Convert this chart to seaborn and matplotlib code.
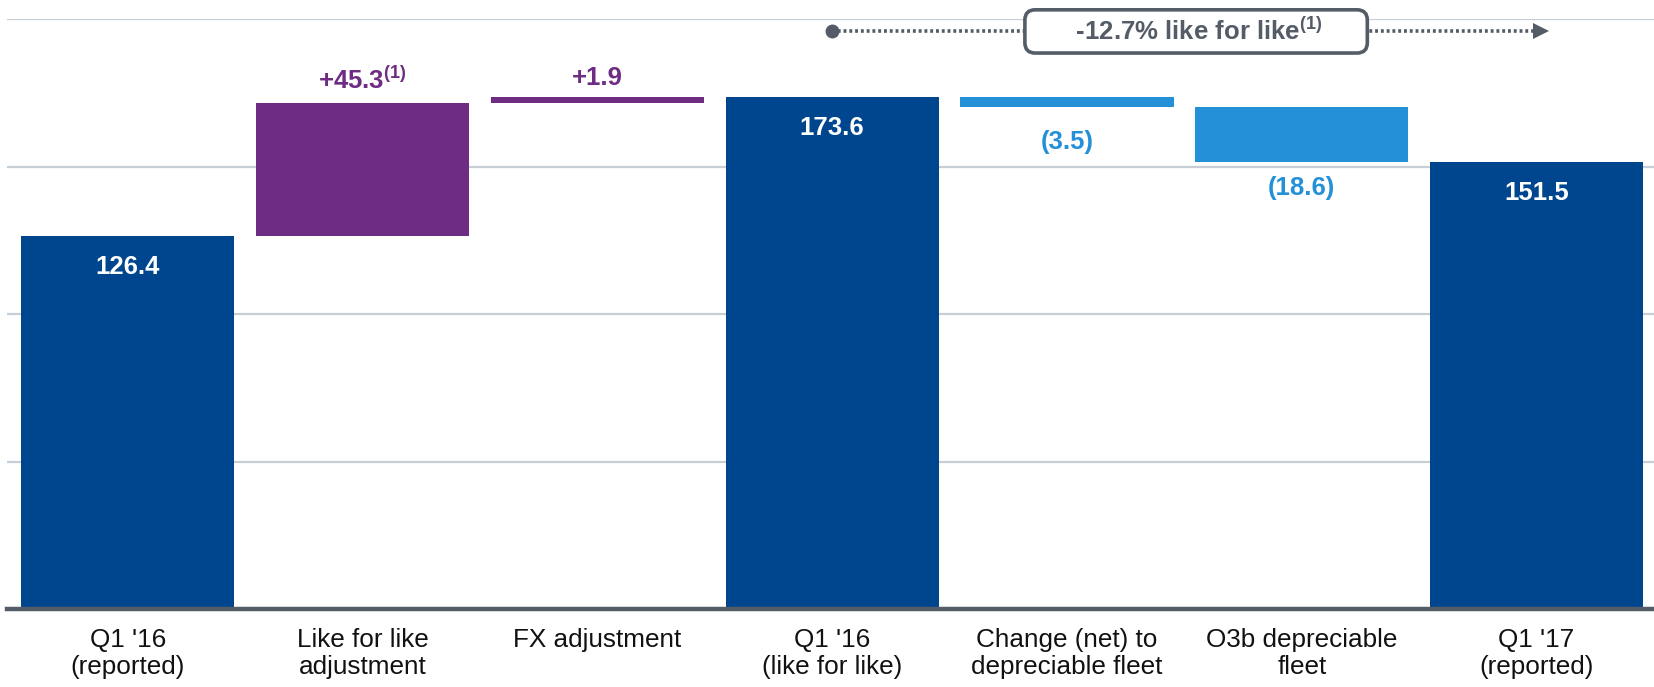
import matplotlib
matplotlib.use("Agg")
import matplotlib.pyplot as plt
import seaborn as sns
import numpy as np

# ---- data ----
categories = ["Q1 '16\n(reported)", "Like for like\nadjustment", "FX adjustment",
              "Q1 '16\n(like for like)", "Change (net) to\ndepreciable fleet",
              "O3b depreciable\nfleet", "Q1 '17\n(reported)"]
values = [126.4, 45.3, 1.9, 173.6, -3.5, -18.6, 151.5]
is_total = [True, False, False, True, False, False, True]
value_labels = ["126.4", "+45.3", "+1.9", "173.6", "(3.5)", "(18.6)", "151.5"]
footnote = [False, True, False, False, False, False, False]
summary_text = "-12.7% like for like"
gridline_values = [0, 50, 100, 150, 200]

# ---- style ----
sns.set_style("white")
plt.rcParams["font.family"] = ["Liberation Sans", "DejaVu Sans"]
plt.rcParams["mathtext.fontset"] = "custom"
plt.rcParams["mathtext.rm"] = "Liberation Sans"
plt.rcParams["mathtext.bf"] = "Liberation Sans:bold"

DARK = "#00468f"
PURPLE = "#6e2c83"
LIGHT = "#2490d8"
GRAY = "#535c67"

# compute waterfall geometry from values
bottoms, heights, colors = [], [], []
running = 0.0
for v, tot in zip(values, is_total):
    if tot:
        bottoms.append(0.0); heights.append(v); colors.append(DARK)
        running = v
    else:
        if v >= 0:
            bottoms.append(running); heights.append(v); colors.append(PURPLE)
        else:
            bottoms.append(running + v); heights.append(-v); colors.append(LIGHT)
        running += v

fig = plt.figure(figsize=(16.54, 6.87), dpi=100)
ax = fig.add_axes([0.0045, 0.1135, 0.9955, 0.8588])

sns.barplot(x=categories, y=heights, hue=categories, palette=colors,
            legend=False, width=0.908, saturation=1, ax=ax, zorder=2)
for patch, b in zip(ax.patches, bottoms):
    patch.set_y(b)
    patch.set_linewidth(0)

ax.set_xlim(-0.512, 6.5)
ax.set_ylim(0, 200)
ax.set_yticks(gridline_values)
ax.set_yticklabels([])
ax.yaxis.grid(True, color="#c8ced5", lw=1.6)
ax.xaxis.grid(False)
ax.set_axisbelow(True)
for s in ["left", "right", "top"]:
    ax.spines[s].set_visible(False)
ax.spines["bottom"].set_color(GRAY)
ax.spines["bottom"].set_linewidth(3.2)
ax.spines["bottom"].set_zorder(3)
ax.tick_params(axis="both", length=0)
ax.tick_params(axis="x", pad=14, labelsize=18.8, labelcolor="#111111")
for t in ax.get_xticklabels():
    t.set_linespacing(1.15)
ax.set_ylabel(""); ax.set_xlabel("")

VFS = 18.5
# ---- value labels ----
for i, (lab, b, h, c, tot, fn) in enumerate(zip(value_labels, bottoms, heights,
                                                  colors, is_total, footnote)):
    txt = lab + (r"$^{\mathbf{(1)}}$" if fn else "")
    if tot:
        ax.annotate(txt, (i, b + h), xytext=(0, -22.5), textcoords="offset points",
                    ha="center", va="center", color="white", fontsize=VFS,
                    fontweight="bold")
    elif c == PURPLE:
        off = 16 if h > 10 else 13.5
        ax.annotate(txt, (i, b + h), xytext=(0, off), textcoords="offset points",
                    ha="center", va="center", color=c, fontsize=VFS,
                    fontweight="bold")
    else:
        off = -25 if h < 10 else -18.5
        ax.annotate(txt, (i, b), xytext=(0, off), textcoords="offset points",
                    ha="center", va="center", color=c, fontsize=VFS,
                    fontweight="bold")

# ---- summary arrow ----
y_arrow = 195.8
x0, x1 = 3, 6.02
ax.plot([x0, x1], [y_arrow, y_arrow], color=GRAY, lw=2.6,
        linestyle=(0, (0.8, 0.8)), clip_on=False, zorder=4)
ax.plot([x0], [y_arrow], marker="o", ms=9, color=GRAY, clip_on=False, zorder=5)
ax.plot([x1], [y_arrow], marker=">", ms=11, color=GRAY, clip_on=False, zorder=5,
        markeredgewidth=0)
ax.text(4.55, y_arrow, "      " + summary_text + r"$^{\mathbf{(1)}}$" + "      ",
        ha="center", va="center", fontsize=18.5, fontweight="bold", color=GRAY,
        zorder=6, clip_on=False,
        bbox=dict(boxstyle="round,pad=0.3,rounding_size=0.4", fc="white",
                  ec=GRAY, lw=2.6))

fig.savefig("out.png", dpi=100)
